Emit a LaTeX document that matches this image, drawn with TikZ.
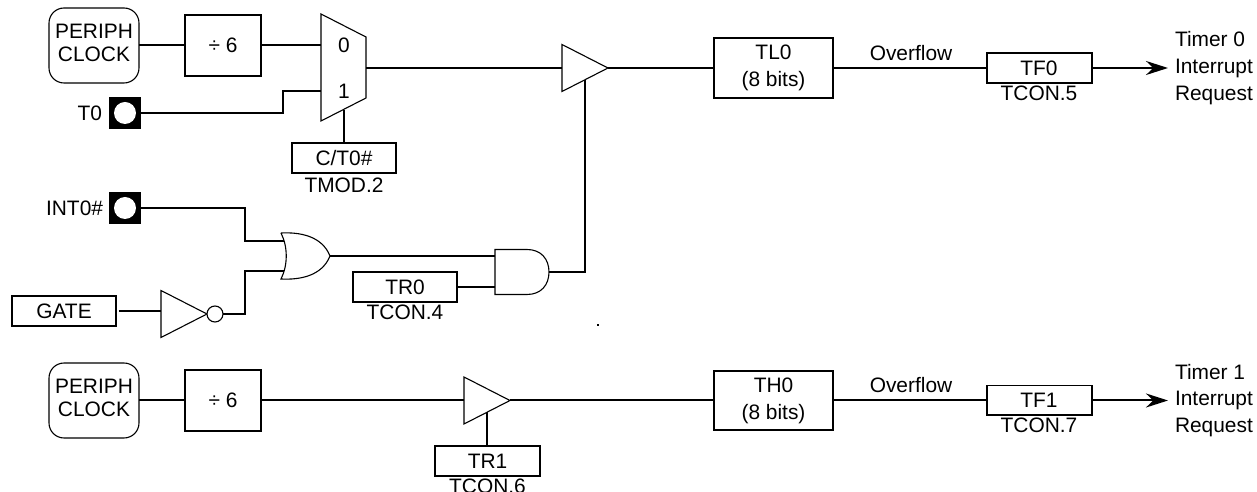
\documentclass[tikz,border=0pt]{standalone}
\usepackage{fontspec}
\setmainfont{Liberation Sans}
\usepackage{tikz}
\usetikzlibrary{positioning,calc,shapes.geometric,arrows.meta}
\tikzset{
	wire/.style={line width=0.04cm},
	gateline/.style={line width=0.022cm,fill=white},
	lbl/.style={inner sep=0,outer sep=0,font=\fontsize{11.9}{13.3}\selectfont,align=center},
	regbox/.style={draw=black,line width=0.04cm,minimum height=0.6cm,minimum width=2.1cm,inner sep=0,outer sep=0,font=\fontsize{11.9}{13.3}\selectfont},
	cntbox/.style={draw=black,line width=0.04cm,minimum height=1.2cm,minimum width=2.38cm,inner sep=0,outer sep=0,align=center,font=\fontsize{11.9}{15.5}\selectfont},
	divbox/.style={draw=black,line width=0.04cm,minimum height=1.22cm,minimum width=1.52cm,inner sep=0,outer sep=0,font=\fontsize{11.9}{13.3}\selectfont},
	clkbox/.style={draw=black,line width=0.022cm,rounded corners=0.3cm,minimum height=1.5cm,minimum width=1.8cm,inner sep=0,outer sep=0,align=center,font=\fontsize{11.9}{13.3}\selectfont},
	pinbox/.style={fill=black,minimum size=0.64cm,inner sep=0,outer sep=0},
	pinhole/.style={circle,fill=white,minimum size=0.44cm,inner sep=0},
	bufgate/.style={draw=black,line width=0.022cm,fill=white,isosceles triangle,isosceles triangle stretches,shape border rotate=0,minimum width=0.94cm,minimum height=0.92cm,inner sep=0,outer sep=0},
	irqtext/.style={lbl,align=left,anchor=west,font=\fontsize{11.9}{15.3}\selectfont},
	every path/.style={line join=miter}
}
\begin{document}
\begin{tikzpicture}[x=0.02cm,y=-0.02cm]
		\useasboundingbox (0,0) rectangle (1257,492);
		
		\node[clkbox] (clk0) at (94,45.5) {PERIPH\\CLOCK\\[-0.37cm]};
		\node[divbox,right=0.92cm of clk0] (div0) {÷ 6};
		\draw[wire] (clk0.east)--(div0.west);
		
		\draw[gateline] (321,14)--(366,37)--(366,98)--(321,121)--cycle;
		\coordinate (mux0) at (321,45.5);
		\coordinate (mux1) at (321,91);
		\coordinate (muxout) at (366,68);
		\coordinate (muxsel) at (344,110);
		\node[lbl] (mux0lbl) at (344,45) {0};
		\node[lbl] (mux1lbl) at (344,91) {1};
		\draw[wire] (div0.east)--(mux0);
		
		\node[pinbox] (t0pin) at (125,113) {};
		\node[pinhole] (t0hole) at (t0pin) {};
		\node[lbl,left=0.14cm of t0pin] (t0lbl) {T0};
		\draw[wire] (t0pin.east)-|(283,91)--(mux1);
		
		\node[regbox] (ct0) at (344,158) {C/T0\#};
		\node[lbl,below=0.1cm of ct0] (tmod2) {TMOD.2};
		\draw[wire] (muxsel)--(ct0.north);
		
		\node[bufgate,anchor=lower side] (buf0) at (562,68) {};
		\draw[wire] (muxout)--(buf0.lower side);
		
		\node[cntbox] (tl0) at (773.5,68) {TL0\\(8 bits)};
		\draw[wire] (buf0.apex)--(tl0.west);
		\node[regbox] (tf0) at (1039,68) {TF0};
		\draw[wire] (tl0.east)--(tf0.west);
		\node[lbl] (ovf0) at (911,53) {Overflow};
		\node[lbl,below=0.05cm of tf0] (tcon5) {TCON.5};
		\coordinate (irq0) at (1168,68);
		\draw[wire,-{Stealth[length=0.44cm,width=0.28cm]}] (tf0.east)--(irq0);
		\node[irqtext] (irq0lbl) at (1175,68) {Timer 0\\Interrupt\\Request};
		
		\node[pinbox] (intpin) at (125,208) {};
		\node[pinhole] (inthole) at (intpin) {};
		\node[lbl,left=0.12cm of intpin] (intlbl) {INT0\#};
		
		\node[regbox] (gatebox) at (64,311) {GATE};
		\node[bufgate,anchor=lower side] (inv) at (161,314) {};
		\draw[wire,shorten <=0.05cm] (gatebox.east)--(gatebox.east-|inv.lower side);
		\node[draw=black,line width=0.022cm,fill=white,circle,minimum size=0.32cm,inner sep=0,outer sep=0,right=0 of inv.apex] (bubble) {};
		
		\coordinate (or0) at (284,241);
		\coordinate (or1) at (284,271);
		\coordinate (orout) at (330,256);
		\draw[wire] (intpin.east)-|(245,241)--(or0);
		\draw[wire] (bubble.east)-|(245,271)--(or1);
		\draw[gateline] (281,233) .. controls (300,232) and (322,236) .. (orout) .. controls (322,276) and (300,280) .. (281,279) .. controls (288,265) and (288,247) .. (281,233);
		
		\coordinate (and0) at (495,256);
		\coordinate (and1) at (495,287.5);
		\coordinate (andout) at (549,272);
		\draw[gateline] (495,249.5)--(527,249.5) .. controls (541,249.5) and (549,259) .. (andout) .. controls (549,285) and (541,294.5) .. (527,294.5)--(495,294.5)--cycle;
		\draw[wire] (orout)--(and0);
		\node[regbox] (tr0) at (405,287.5) {TR0};
		\node[lbl,below=0.05cm of tr0] (tcon4) {TCON.4};
		\draw[wire] (tr0.east)--(and1);
		\draw[wire] (andout)-|(buf0.right side);
		
		\node[fill=black,minimum size=0.04cm,inner sep=0] (speck) at (598,325) {};
		
		\node[clkbox] (clk1) at (94,400.5) {PERIPH\\CLOCK\\[-0.37cm]};
		\node[divbox,right=0.92cm of clk1] (div1) {÷ 6};
		\draw[wire] (clk1.east)--(div1.west);
		
		\node[bufgate,anchor=lower side] (buf1) at (464,400.5) {};
		\draw[wire] (div1.east)--(buf1.lower side);
		\node[regbox] (tr1) at (487.5,461) {TR1};
		\node[lbl,below=0.05cm of tr1] (tcon6) {TCON.6};
		\draw[wire] (buf1.right side)--(buf1.right side|-tr1.north);
		
		\node[cntbox] (th0) at (773.5,400.5) {TH0\\(8 bits)};
		\draw[wire] (buf1.apex)--(th0.west);
		\node[regbox] (tf1) at (1039,400.5) {TF1};
		\draw[wire] (th0.east)--(tf1.west);
		\node[lbl] (ovf1) at (911,385) {Overflow};
		\node[lbl,below=0.05cm of tf1] (tcon7) {TCON.7};
		\coordinate (irq1) at (1168,400.5);
		\draw[wire,-{Stealth[length=0.44cm,width=0.28cm]}] (tf1.east)--(irq1);
		\node[irqtext] (irq1lbl) at (1175,400.5) {Timer 1\\Interrupt\\Request};
	\end{tikzpicture}
\end{document}
